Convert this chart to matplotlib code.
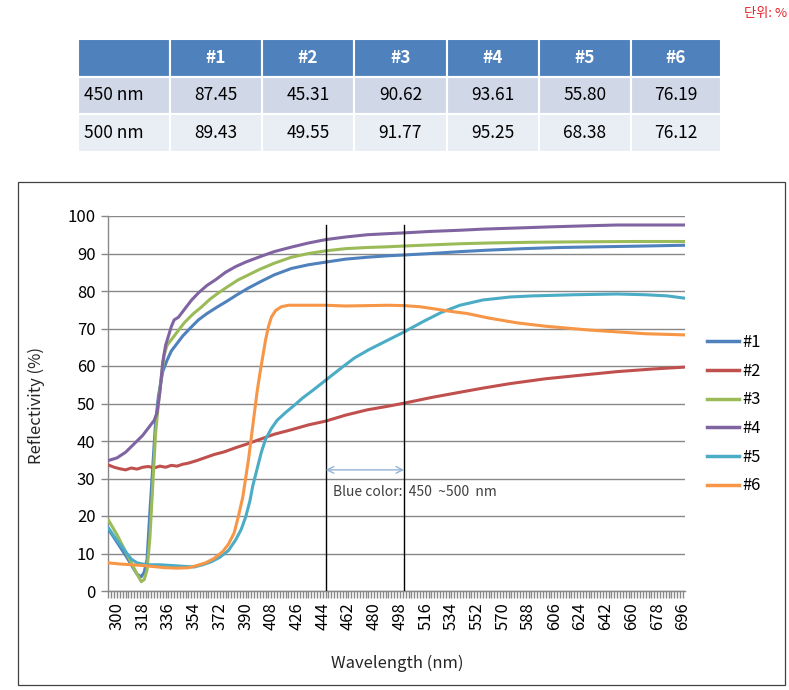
import matplotlib
matplotlib.use('Agg')
import matplotlib.pyplot as plt
from matplotlib.patches import Rectangle
from matplotlib.lines import Line2D
from matplotlib.ticker import MultipleLocator
import numpy as np

plt.rcParams['font.family'] = ['Noto Sans CJK KR', 'DejaVu Sans']

# ---------------- data ----------------
table_cols = ['#1', '#2', '#3', '#4', '#5', '#6']
table_rows = ['450 nm', '500 nm']
table_450 = [87.45, 45.31, 90.62, 93.61, 55.80, 76.19]
table_500 = [89.43, 49.55, 91.77, 95.25, 68.38, 76.12]

series_names = ['#1', '#2', '#3', '#4', '#5', '#6']
series_colors = ['#4F81BD', '#C0504D', '#9BBB59', '#8064A2', '#4BACC6', '#F79646']

wl1 = [294, 300, 306, 310, 314, 317, 319, 321, 323, 325, 327, 329, 332, 335, 338, 342, 346, 351,
       357, 363, 370, 377, 384, 392, 400, 410, 422, 434, 446, 460, 475, 490, 501, 520, 540, 560,
       585, 610, 640, 670, 697]
r1 = [16.5, 13.0, 9.5, 7.0, 4.5, 3.8, 5.0, 8.3, 21.0, 33.0, 45.0, 52.0, 58.5, 61.5, 64.0, 66.0, 68.0,
      70.0, 72.3, 74.0, 75.7, 77.3, 79.0, 80.8, 82.4, 84.3, 86.0, 87.0, 87.7, 88.5, 89.0, 89.4, 89.6,
      90.0, 90.5, 90.9, 91.3, 91.6, 91.8, 92.0, 92.2]

wl2 = [294, 298, 302, 306, 310, 314, 318, 322, 326, 330, 334, 338, 342, 346, 350, 356, 362, 368,
       375, 383, 391, 399, 410, 422, 434, 446, 460, 475, 490, 501, 520, 540, 556, 575, 600, 626,
       650, 675, 697]
r2 = [33.6, 33.0, 32.6, 32.3, 32.8, 32.5, 33.0, 33.2, 32.8, 33.3, 33.0, 33.5, 33.3, 33.8, 34.1, 34.8,
      35.6, 36.4, 37.1, 38.2, 39.2, 40.3, 41.8, 43.0, 44.3, 45.3, 46.9, 48.3, 49.3, 50.1, 51.6, 53.0,
      54.1, 55.3, 56.6, 57.6, 58.5, 59.2, 59.7]

wl3 = [294, 300, 306, 310, 314, 317, 319, 321, 323, 325, 327, 329, 331, 333, 335, 338, 342, 347,
       353, 359, 365, 371, 378, 385, 392, 400, 410, 422, 434, 446, 460, 475, 490, 501, 520, 540,
       560, 590, 620, 660, 697]
r3 = [18.9, 15.0, 10.5, 7.5, 4.5, 2.5, 3.0, 5.6, 14.0, 28.0, 42.0, 50.0, 57.0, 63.0, 65.5, 67.0, 69.0,
      71.5, 73.8, 75.7, 77.8, 79.5, 81.3, 83.0, 84.3, 85.8, 87.4, 89.0, 90.0, 90.7, 91.3, 91.6, 91.8,
      92.0, 92.3, 92.6, 92.8, 93.0, 93.1, 93.2, 93.2]

wl4 = [294, 300, 306, 310, 314, 318, 322, 326, 328, 330, 332, 334, 336, 338, 340, 343, 347, 352,
       357, 363, 369, 376, 383, 390, 399, 410, 422, 434, 446, 460, 475, 490, 501, 520, 540, 556,
       580, 603, 630, 650, 697]
r4 = [34.8, 35.5, 37.0, 38.5, 40.0, 41.5, 43.5, 45.5, 47.5, 53.0, 61.0, 65.5, 68.0, 70.5, 72.3, 73.0,
      75.0, 77.5, 79.5, 81.5, 83.0, 85.0, 86.5, 87.7, 89.0, 90.5, 91.7, 92.8, 93.7, 94.4, 95.0, 95.3,
      95.5, 95.9, 96.2, 96.5, 96.8, 97.1, 97.4, 97.6, 97.6]

wl5 = [294, 300, 306, 310, 314, 318, 322, 330, 338, 346, 354, 360, 366, 372, 378, 383, 387, 390,
       393, 395, 398, 401, 404, 408, 412, 418, 424, 430, 437, 446, 456, 466, 476, 488, 501, 515,
       527, 540, 556, 575, 591, 620, 650, 670, 685, 697]
r5 = [16.8, 13.5, 10.5, 8.5, 7.5, 7.2, 7.0, 7.0, 6.8, 6.6, 6.4, 7.0, 7.8, 9.0, 10.8, 13.6, 16.5, 19.7,
      24.0, 28.0, 32.5, 37.0, 40.5, 43.3, 45.5, 47.6, 49.5, 51.5, 53.5, 56.2, 59.2, 62.1, 64.3, 66.6,
      69.1, 72.0, 74.3, 76.2, 77.6, 78.4, 78.7, 79.0, 79.2, 79.0, 78.7, 78.1]

wl6 = [294, 302, 310, 318, 326, 334, 342, 350, 356, 362, 368, 374, 378, 382, 385, 388, 390, 392,
       394, 396, 398, 400, 402, 404, 406, 408, 411, 415, 420, 430, 446, 460, 475, 490, 501, 512,
       521, 533, 545, 560, 580, 600, 615, 630, 650, 670, 697]
r6 = [7.5, 7.2, 7.0, 6.8, 6.5, 6.2, 6.1, 6.2, 6.8, 7.5, 8.7, 10.5, 12.5, 15.5, 20.0, 25.0, 30.0, 35.0,
      41.0, 47.0, 53.0, 58.0, 62.5, 67.0, 70.5, 73.0, 74.8, 75.8, 76.2, 76.2, 76.2, 76.0, 76.1, 76.2,
      76.1, 75.8, 75.3, 74.6, 74.0, 72.8, 71.5, 70.6, 70.1, 69.6, 69.1, 68.6, 68.3]

x_tick_values = list(range(300, 697, 18))
y_tick_values = list(range(0, 101, 10))
blue_band_nm = [446, 501]
band_label = 'Blue color:  450  ~500  nm'

all_wl = [wl1, wl2, wl3, wl4, wl5, wl6]
all_r = [r1, r2, r3, r4, r5, r6]

# ---------------- figure ----------------
W, H = 789, 690
fig = plt.figure(figsize=(W / 100, H / 100), dpi=100)


def fx(px):
    return px / W


def fy(py):
    return 1 - py / H


# unit text
fig.text(fx(744), fy(14), '단위: %', color='#E8202A', fontsize=9.5, va='center', ha='left')

# table
col_edges = [78, 170, 262, 354, 447, 539, 631, 721]
row_edges = [39, 77, 114, 152]
row_fills = ['#4F81BD', '#D0D8E8', '#E9EDF4']
rows_content = [[''] + table_cols,
                [table_rows[0]] + ['%.2f' % v for v in table_450],
                [table_rows[1]] + ['%.2f' % v for v in table_500]]
for ri in range(3):
    for ci in range(7):
        x0, x1 = col_edges[ci], col_edges[ci + 1]
        y0, y1 = row_edges[ri], row_edges[ri + 1]
        fig.add_artist(Rectangle((fx(x0), fy(y1)), (x1 - x0) / W, (y1 - y0) / H,
                                 transform=fig.transFigure, facecolor=row_fills[ri],
                                 edgecolor='white', lw=1.5))
        txt = rows_content[ri][ci]
        if not txt:
            continue
        yc = fy((y0 + y1) / 2)
        if ri == 0:
            fig.text(fx((x0 + x1) / 2), yc, txt, color='white', fontsize=12.5,
                     fontweight='bold', ha='center', va='center')
        elif ci == 0:
            fig.text(fx(x0 + 6), yc, txt, color='black', fontsize=12.5, ha='left', va='center')
        else:
            fig.text(fx((x0 + x1) / 2), yc, txt, color='black', fontsize=12.5,
                     ha='center', va='center')

# chart frame
fig.add_artist(Rectangle((fx(18), fy(685)), (785 - 18) / W, (685 - 182) / H,
                         transform=fig.transFigure, fill=False, edgecolor='#404040', lw=0.9))

ax = fig.add_axes([fx(108), fy(591), 577 / W, 375 / H])
for wl, r, c in zip(all_wl, all_r, series_colors):
    ax.plot(wl, r, color=c, lw=2.2, solid_joinstyle='round', zorder=3)

for b in blue_band_nm:
    ax.plot([b, b], [0, 97.5], color='black', lw=1.0, zorder=5)

ax.annotate('', xy=(blue_band_nm[1], 32.3), xytext=(blue_band_nm[0], 32.3),
            arrowprops=dict(arrowstyle='<->', color='#95B3D7', lw=1.0, mutation_scale=12,
                            shrinkA=0, shrinkB=0), zorder=6)
ax.text(blue_band_nm[0] + 5, 26.4, band_label, fontsize=10, color='#404040', va='center',
        ha='left', zorder=6)

ax.set_xlim(293.7, 697.5)
ax.set_ylim(0, 100)
ax.set_xticks(x_tick_values)
ax.xaxis.set_minor_locator(MultipleLocator(2))
ax.set_yticks(y_tick_values)
ax.tick_params(axis='x', which='both', direction='out', length=5, color='#888888',
               labelrotation=90, labelsize=12, width=1, pad=3)
ax.tick_params(axis='y', direction='out', length=5, color='#888888', labelsize=12, width=1, pad=4)
for s in ['top', 'right']:
    ax.spines[s].set_visible(False)
for s in ['left', 'bottom']:
    ax.spines[s].set_color('#888888')
    ax.spines[s].set_linewidth(1)
ax.grid(axis='y', color='#888888', lw=1)
ax.set_axisbelow(True)

ax.set_xlabel('Wavelength (nm)', fontsize=12, color='#262626')
ax.set_ylabel('Reflectivity (%)', fontsize=12, color='#262626')
ax.xaxis.set_label_coords((397 - 108) / 577, -(655 - 591) / 375)
ax.yaxis.set_label_coords(-(108 - 45) / 577, (591 - 405) / 375)

handles = [Line2D([0], [0], color=c, lw=2.5) for c in series_colors]
fig.legend(handles, series_names, loc='upper left', bbox_to_anchor=(fx(707), fy(334)),
           frameon=False, fontsize=12, handlelength=1.9, handletextpad=0.2,
           labelspacing=0.70, borderpad=0, borderaxespad=0)

fig.savefig('out.png', dpi=100)
